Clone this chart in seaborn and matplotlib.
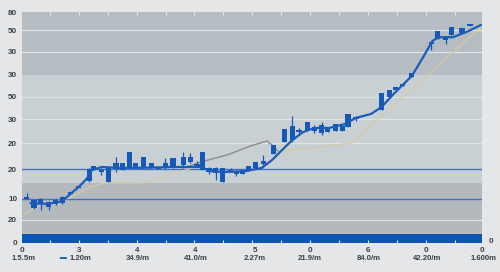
import numpy as np
import pandas as pd
import matplotlib
matplotlib.use("Agg")
import matplotlib.pyplot as plt
import seaborn as sns

# ---------------- data ----------------
candle_x = [0.03, 0.16, 0.28, 0.42, 0.54, 0.66, 0.80, 0.94, 1.13, 1.21, 1.34, 1.46, 1.60, 1.72,
            1.84, 1.94, 2.08, 2.22, 2.34, 2.46, 2.60, 2.78, 2.90, 3.02, 3.11, 3.23, 3.35, 3.47,
            3.61, 3.71, 3.82, 3.92, 4.04, 4.18, 4.36, 4.55, 4.69, 4.81, 4.96, 5.08, 5.21, 5.31,
            5.45, 5.57, 5.67, 5.81, 6.26, 6.39, 6.51, 6.63, 6.79, 7.13, 7.24, 7.38, 7.48, 7.67, 7.81]
body_top = [10.7, 10.2, 10.5, 9.8, 10.2, 11.0, 12.1, 13.6, 17.6, 18.3, 17.4, 17.9, 19.1, 19.1,
            21.7, 19.1, 20.5, 19.1, 18.1, 19.1, 20.2, 20.5, 20.5, 18.8, 21.7, 17.9, 17.9, 17.9,
            17.4, 17.1, 17.4, 18.3, 19.3, 19.5, 23.3, 27.1, 27.9, 26.9, 28.8, 27.6, 28.1, 27.6,
            28.3, 27.9, 30.7, 30.0, 35.7, 36.4, 37.1, 37.9, 40.5, 47.9, 50.5, 48.6, 51.4, 51.2, 52.1]
body_bottom = [10.5, 8.3, 9.5, 8.6, 9.3, 9.5, 11.7, 13.1, 14.8, 17.4, 16.9, 14.5, 17.6, 17.4,
               17.9, 17.9, 17.9, 17.9, 17.6, 17.9, 17.9, 18.6, 19.3, 18.3, 17.4, 16.9, 16.7, 14.5,
               17.1, 16.4, 16.4, 17.1, 17.9, 18.8, 21.2, 24.1, 24.5, 26.4, 26.9, 26.7, 26.2, 26.4,
               26.7, 26.7, 27.6, 29.5, 31.7, 34.8, 36.4, 37.4, 39.5, 47.4, 48.6, 48.3, 49.5, 50.0, 51.7]
high = [11.9, 10.5, 10.7, 10.0, 10.5, 11.2, 12.1, 13.6, 17.9, 18.3, 17.9, 17.9, 20.5, 19.1,
        21.7, 19.1, 20.5, 19.1, 18.1, 20.2, 20.2, 21.7, 21.4, 19.5, 21.7, 18.1, 18.1, 17.9,
        17.9, 17.4, 17.4, 18.3, 19.3, 21.0, 23.3, 27.1, 30.2, 27.4, 28.8, 28.1, 28.8, 27.6,
        28.3, 27.9, 30.7, 30.2, 35.7, 36.4, 37.1, 37.9, 40.5, 47.9, 50.5, 48.6, 51.4, 51.2, 52.1]
low = [10.5, 8.1, 7.9, 7.9, 9.1, 9.3, 11.7, 13.1, 14.5, 17.4, 16.2, 14.5, 16.9, 17.4,
       17.9, 17.9, 17.9, 17.9, 17.6, 17.6, 17.9, 17.9, 19.1, 18.1, 17.4, 16.4, 15.0, 14.5,
       16.9, 16.0, 16.4, 17.1, 17.9, 18.3, 21.2, 24.1, 24.1, 26.0, 26.9, 26.2, 25.7, 26.4,
       26.7, 26.7, 27.6, 29.1, 31.7, 34.8, 36.4, 37.4, 39.5, 46.0, 48.6, 47.4, 49.5, 50.0, 51.7]

trend_x = [0.10, 0.40, 0.66, 0.80, 0.94, 1.08, 1.18, 1.35, 1.61, 2.05, 2.57, 3.09, 3.26, 3.47,
           3.87, 4.16, 4.34, 4.51, 4.69, 4.88, 5.08, 5.34, 5.61, 5.81, 6.07, 6.26, 6.47, 6.79,
           6.99, 7.15, 7.26, 7.51, 7.74, 8.0]
trend_y = [9.5, 9.3, 10.0, 11.7, 13.3, 15.2, 17.4, 18.1, 17.9, 17.9, 18.1, 18.1, 17.1, 16.9,
           17.1, 17.9, 19.8, 22.1, 24.5, 26.4, 27.4, 27.4, 28.3, 29.8, 30.7, 32.4, 35.5, 39.8,
           44.3, 48.1, 49.0, 49.0, 50.2, 51.9]

gray_x = [2.83, 3.09, 3.56, 3.96, 4.25, 4.34, 4.44]
gray_y = [18.1, 19.3, 21.0, 23.1, 24.3, 23.3, 21.9]

tan_x = [0.0, 0.31, 0.78, 1.13, 1.41, 2.05, 2.48, 3.04, 3.09, 3.56, 3.96, 4.25, 4.34, 4.44,
         4.82, 5.73, 6.91, 8.0]
tan_y = [6.9, 9.3, 10.7, 13.3, 14.3, 14.3, 16.0, 18.3, 19.3, 21.0, 23.1, 24.3, 23.3, 21.9,
         22.4, 23.8, 38.1, 51.4]

ytick_pos = [54.8, 50.7, 45.5, 40.2, 34.8, 29.5, 23.8, 17.6, 10.5, 5.5, 0.2]
ytick_labels = ["80", "50", "30", "30", "50", "30", "20", "20", "10", "20", "0"]

xtick_pos = [-0.05, 0.95, 1.96, 2.98, 4.03, 5.01, 6.02, 7.03, 8.02]
xtick_labels = ["0", "3", "4", "4", "5", "0", "6", "0", "0"]

x2_pos = [-0.03, 0.97, 1.98, 3.0, 4.03, 5.0, 6.04, 7.05, 8.04]
x2_labels = ["1.5.5m", "1.20m", "34.9/m", "41.0/m", "2.27m", "21.9/m", "84.0/m", "42.20/m", "1.600m"]

minor_pos = [0.44 + 0.507 * k for k in range(15)]

# ---------------- style ----------------
sns.set_theme(style="white")
plt.rcParams['font.family'] = ['Liberation Sans', 'DejaVu Sans']

BG = '#e4e6e7'
BLUE = '#1558b8'
TXT = '#3b4046'

fig = plt.figure(figsize=(5.0, 2.72), dpi=100, facecolor=BG)
ax = fig.add_axes([22 / 500, 29 / 272, 460 / 500, 231 / 272])
ax.set_facecolor('#c9d0d4')
ax.set_xlim(0, 8)
ax.set_ylim(0, 55)

# background bands
ax.axhspan(40.0, 55, color='#b6bdc2', zorder=0, lw=0)
ax.axhspan(14.3, 40.0, color='#c9d0d4', zorder=0, lw=0)
ax.axhspan(2.1, 14.3, color='#b4b9bd', zorder=0, lw=0)
ax.axhspan(0, 2.1, color='#0b56b4', zorder=0.2, lw=0)

for yv in [50.7, 45.5, 34.8, 29.5, 23.8, 5.5]:
    ax.axhline(yv, color='#dfe4e7', lw=0.9, zorder=0.5)
for yv in [17.6, 10.5]:
    ax.axhline(yv, color='#4471c2', lw=1.0, zorder=0.6)

# lines
sns.lineplot(x=tan_x, y=tan_y, ax=ax, color='#d6caa3', lw=0.9, sort=False, estimator=None, zorder=1)
sns.lineplot(x=gray_x, y=gray_y, ax=ax, color='#8a8f96', lw=1.0, sort=False, estimator=None, zorder=1.2)

# candles
cx = np.array(candle_x)
top = np.array(body_top)
bot = np.array(body_bottom)
h = np.maximum(top - bot, 0.4)
ax.vlines(cx, low, high, color=BLUE, lw=0.9, zorder=3)
ax.bar(cx, h, bottom=bot, width=0.09, color=BLUE, lw=0, zorder=3)

sns.lineplot(x=trend_x, y=trend_y, ax=ax, color='#1b5cb6', lw=1.6, sort=False, estimator=None, zorder=4)

# axes cosmetics
for s in ax.spines.values():
    s.set_visible(False)
ax.grid(False)
ax.set_axisbelow(False)
ax.set_yticks(ytick_pos, ytick_labels)
ax.set_xticks(xtick_pos, xtick_labels)
ax.set_xticks(minor_pos, minor=True)
ax.tick_params(axis='both', which='major', length=0, labelsize=5.8, labelcolor=TXT)
ax.tick_params(axis='y', pad=3.5)
ax.tick_params(axis='x', pad=3)
ax.tick_params(axis='x', which='minor', direction='in', length=2.5, width=0.8,
               color='#e8ecef', top=True, bottom=True)
for lab in ax.get_xticklabels() + ax.get_yticklabels():
    lab.set_fontweight('bold')

for xv, lab in zip(x2_pos, x2_labels):
    ax.annotate(lab, xy=(xv, 0), xycoords=('data', 'axes fraction'), xytext=(0, -11.5),
                textcoords='offset points', ha='center', va='center', fontsize=5.6,
                color=TXT, fontweight='bold', annotation_clip=False)
ax.annotate('━', xy=(0.69, 0), xycoords=('data', 'axes fraction'), xytext=(-1, -11.5),
            textcoords='offset points', ha='center', va='center', fontsize=8,
            color=BLUE, family='DejaVu Sans', annotation_clip=False)
ax.text(8.17, 0.3, "0", ha='center', va='center', fontsize=5.8, color=TXT,
        fontweight='bold', clip_on=False)

ax.set_xlabel('')
ax.set_ylabel('')
fig.savefig('out.png', dpi=100, facecolor=fig.get_facecolor())
